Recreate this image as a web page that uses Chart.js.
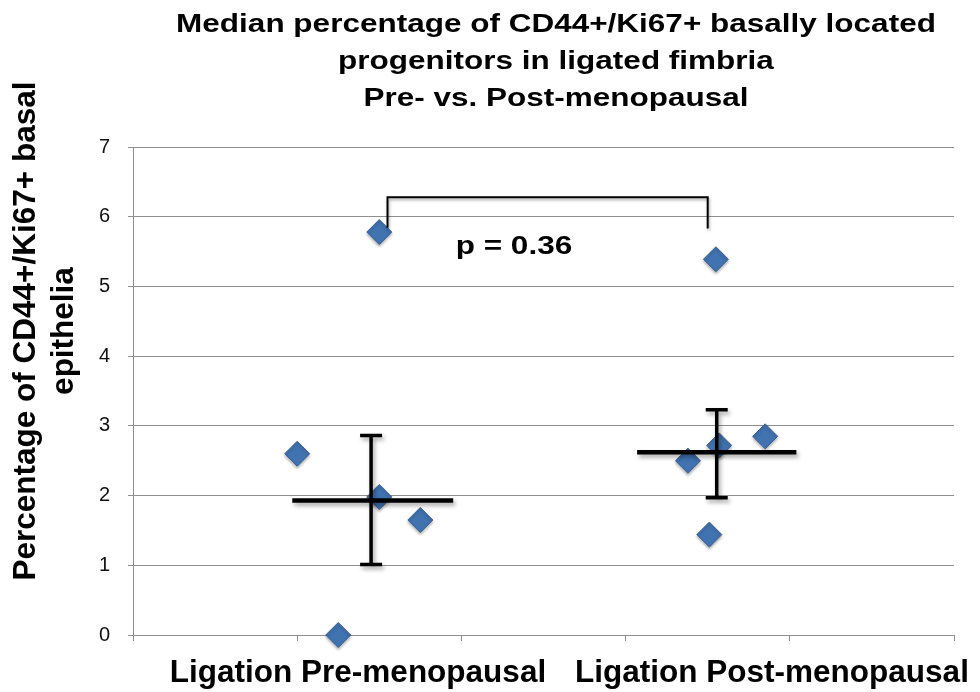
<!DOCTYPE html>
<html>
<head>
<meta charset="utf-8">
<script src="https://cdn.jsdelivr.net/npm/chart.js@4.4.1/dist/chart.umd.min.js"></script>
<style>
  body { margin: 0; background: #fff; }
</style>
</head>
<body>
<canvas id="scatter" width="980" height="692"></canvas>
<script>
// data
const titleLines = ["Median percentage of CD44+/Ki67+ basally located", "progenitors in ligated fimbria", "Pre- vs. Post-menopausal"];
const yTitle = ["Percentage of CD44+/Ki67+ basal", "epithelia"];
const groups = ["Ligation Pre-menopausal", "Ligation Post-menopausal"];
const preX = [1.0, 1.25, 1.5, 1.5, 1.75];
const preY = [2.6, 0, 5.78, 1.98, 1.65];
const postX = [3.38, 3.51, 3.55, 3.57, 3.85];
const postY = [2.5, 1.44, 5.39, 2.72, 2.85];
const medians = [1.93, 2.62];
const medianFrom = [0.97, 3.07];
const medianTo = [1.95, 4.04];
const errX = [1.45, 3.555];
const errLow = [1.01, 1.97];
const errHigh = [2.86, 3.23];
const pValue = "p = 0.36";
const yTicks = [0, 1, 2, 3, 4, 5, 6, 7];

const FONT = "'Liberation Sans', Arial, sans-serif";
const GRID = '#8f8f8f';

function pts(xs, ys) {
  return xs.map((v, i) => ({ x: v, y: ys[i] }));
}

const overlays = {
  id: 'overlays',
  beforeDatasetsDraw(chart) {
    const ctx = chart.ctx;
    ctx.save();
    ctx.shadowColor = 'rgba(0,0,0,0.3)';
    ctx.shadowBlur = 3;
    ctx.shadowOffsetY = 2;
  },
  afterDatasetsDraw(chart) {
    const { ctx, scales: { x, y } } = chart;
    ctx.restore();
    ctx.save();
    ctx.strokeStyle = '#000';
    ctx.shadowColor = 'rgba(0,0,0,0.35)';
    ctx.shadowBlur = 4;
    ctx.shadowOffsetX = 2;
    ctx.shadowOffsetY = 3;
    medians.forEach((m, i) => {
      ctx.lineWidth = 4.5;
      ctx.beginPath();
      ctx.moveTo(x.getPixelForValue(medianFrom[i]), y.getPixelForValue(m));
      ctx.lineTo(x.getPixelForValue(medianTo[i]), y.getPixelForValue(m));
      ctx.stroke();

      const cx = x.getPixelForValue(errX[i]);
      const top = y.getPixelForValue(errHigh[i]);
      const bot = y.getPixelForValue(errLow[i]);
      ctx.lineWidth = 3.5;
      ctx.beginPath();
      ctx.moveTo(cx, top); ctx.lineTo(cx, bot);
      ctx.moveTo(cx - 11, top); ctx.lineTo(cx + 11, top);
      ctx.moveTo(cx - 11, bot); ctx.lineTo(cx + 11, bot);
      ctx.stroke();
    });

    // significance bracket between the two groups
    ctx.lineWidth = 2;
    ctx.shadowBlur = 3;
    ctx.shadowOffsetX = 1;
    ctx.shadowOffsetY = 2;
    ctx.beginPath();
    ctx.moveTo(x.getPixelForValue(1.55), y.getPixelForValue(5.84));
    ctx.lineTo(x.getPixelForValue(1.55), y.getPixelForValue(6.28));
    ctx.lineTo(x.getPixelForValue(3.5), y.getPixelForValue(6.28));
    ctx.lineTo(x.getPixelForValue(3.5), y.getPixelForValue(5.83));
    ctx.stroke();
    ctx.restore();
  },
  afterDraw(chart) {
    const { ctx, scales: { x, y } } = chart;
    ctx.save();
    ctx.fillStyle = '#000';
    ctx.textAlign = 'center';
    ctx.textBaseline = 'alphabetic';
    ctx.font = 'bold 31.5px ' + FONT;

    // title (squashed like the original)
    titleLines.forEach((t, i) => {
      ctx.save();
      ctx.translate(556, 32 + i * 37);
      ctx.scale(1, 0.82);
      ctx.fillText(t, 0, 0);
      ctx.restore();
    });

    // p value
    ctx.save();
    ctx.translate(x.getPixelForValue(2.32), y.getPixelForValue(5.47));
    ctx.scale(1, 0.82);
    ctx.fillText(pValue, 0, 0);
    ctx.restore();

    // group labels under the axis
    ctx.fillText(groups[0], 358, 682);
    ctx.fillText(groups[1], 772, 682);

    // y axis title
    ctx.save();
    ctx.translate(0, 331);
    ctx.rotate(-Math.PI / 2);
    ctx.fillText(yTitle[0], 0, 35);
    ctx.fillText(yTitle[1], 0, 73);
    ctx.restore();
    ctx.restore();
  }
};

new Chart(document.getElementById('scatter'), {
  type: 'scatter',
  data: {
    datasets: [{
      label: groups[0],
      data: pts(preX, preY)
    }, {
      label: groups[1],
      data: pts(postX, postY)
    }]
  },
  options: {
    responsive: false,
    animation: false,
    events: [],
    clip: false,
    layout: { padding: { top: 147, right: 26, left: 0, bottom: 0 } },
    elements: {
      point: {
        pointStyle: 'rectRot',
        radius: 12.5,
        backgroundColor: '#4173b1',
        borderColor: '#365f96',
        borderWidth: 1
      }
    },
    plugins: {
      legend: { display: false },
      title: { display: false },
      tooltip: { enabled: false }
    },
    scales: {
      x: {
        type: 'linear',
        min: 0,
        max: 5,
        ticks: { stepSize: 1, display: false },
        grid: { drawOnChartArea: false, drawTicks: true, tickLength: 6, color: GRID },
        border: { color: GRID },
        afterFit(s) { s.height = 57; }
      },
      y: {
        min: yTicks[0],
        max: yTicks[yTicks.length - 1],
        ticks: {
          stepSize: 1,
          padding: 18,
          color: '#111',
          font: { family: FONT, size: 20 }
        },
        grid: { color: GRID, tickLength: 5 },
        border: { color: GRID },
        afterFit(s) { s.width = 133; }
      }
    }
  },
  plugins: [overlays]
});
</script>
</body>
</html>
